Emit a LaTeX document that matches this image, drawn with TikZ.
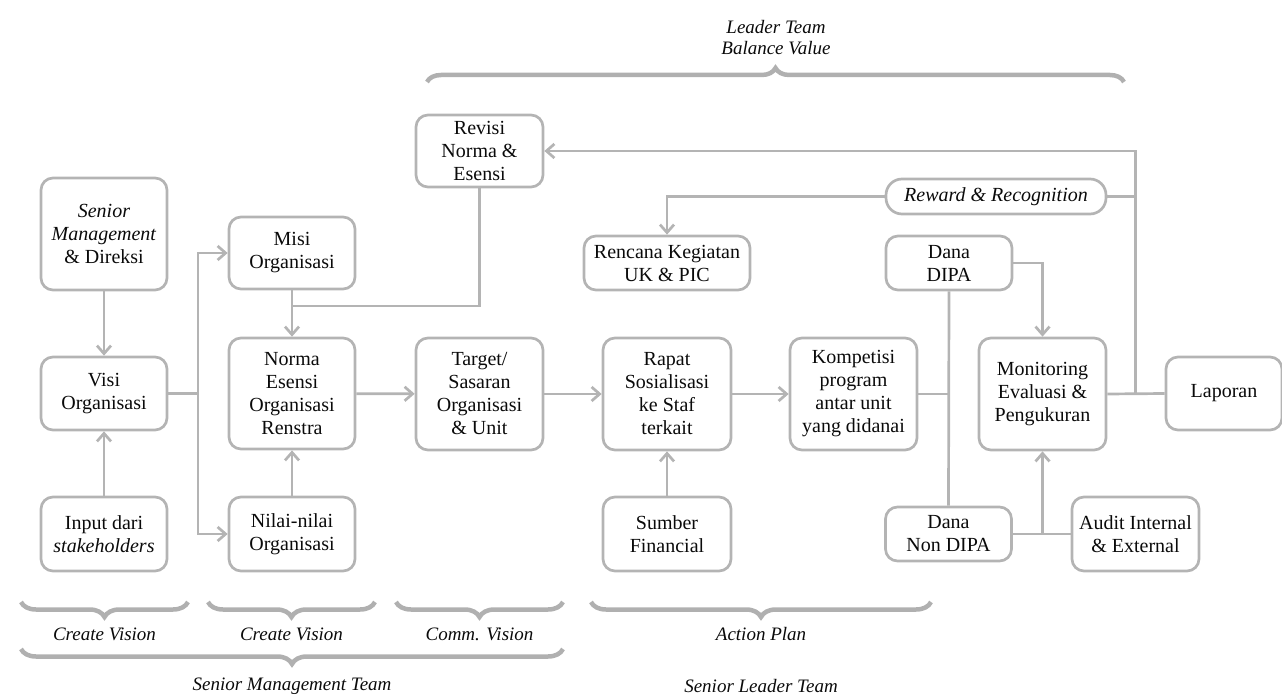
\documentclass[tikz,border=0pt]{standalone}
\usepackage{fontspec}
\setmainfont{Liberation Serif}
\usetikzlibrary{arrows.meta,decorations.pathreplacing,calc}
\definecolor{linegray}{RGB}{180,180,180}
\definecolor{bracegray}{RGB}{176,176,176}
\definecolor{txt}{RGB}{10,10,10}

\begin{document}
\begin{tikzpicture}[x=1pt,y=-1pt,
  box/.style={draw=linegray, line width=2.7pt, rounded corners=12pt, align=center,
    inner sep=0pt, text=txt, font=\fontsize{20}{23}\selectfont},
  conn/.style={draw=linegray, line width=2.7pt},
  arr/.style={conn, -{Straight Barb[length=8pt,width=14pt]}},
  brc/.style={draw=bracegray, line width=4.5pt, decorate},
  lbl/.style={text=txt, font=\fontsize{19}{21}\selectfont\itshape, align=center, inner sep=0pt}]

\useasboundingbox (0,0) rectangle (1282,695);

% ---------- boxes ----------
\node[box, minimum width=126pt, minimum height=112pt] (senior) at (104,234)
  {\textit{Senior}\\\textit{Management}\\\& Direksi};
\node[box, minimum width=126pt, minimum height=73pt] (visi) at (104,393.5)
  {Visi\\Organisasi};
\node[box, minimum width=126pt, minimum height=74pt] (input) at (104,534)
  {Input dari\\\textit{stakeholders}};

\node[box, minimum width=126pt, minimum height=72pt] (misi) at (292,253)
  {Misi\\Organisasi};
\node[box, minimum width=126pt, minimum height=111pt] (norma) at (292,393.5)
  {Norma\\Esensi\\Organisasi\\Renstra};
\node[box, minimum width=126pt, minimum height=74pt] (nilai) at (292,534)
  {Nilai-nilai\\Organisasi};

\node[box, minimum width=127pt, minimum height=72pt] (revisi) at (479.5,151)
  {Revisi\\Norma \&\\Esensi};
\node[box, minimum width=127pt, minimum height=112pt] (target) at (479.5,394)
  {Target/\\Sasaran\\Organisasi\\\& Unit};

\node[box, minimum width=166pt, minimum height=54pt] (rencana) at (667,263)
  {Rencana Kegiatan\\UK \& PIC};
\node[box, minimum width=128pt, minimum height=112pt] (rapat) at (667,394)
  {Rapat\\Sosialisasi\\ke Staf\\terkait};
\node[box, minimum width=128pt, minimum height=74pt] (sumber) at (667,534)
  {Sumber\\Financial};

\node[box, minimum width=127pt, minimum height=112pt] (kompetisi) at (853.5,394)
  {Kompetisi\\program\\antar unit\\yang didanai};

\node[box, rounded corners=16pt, minimum width=220pt, minimum height=35pt] (reward) at (996,196.5)
  {\textit{Reward \& Recognition}};
\node[box, minimum width=126pt, minimum height=54pt] (dipa) at (949,263)
  {Dana\\DIPA};
\node[box, minimum width=126pt, minimum height=54pt] (nondipa) at (948.5,534)
  {Dana\\Non DIPA};

\node[box, minimum width=127pt, minimum height=112pt] (monitoring) at (1042.5,394)
  {Monitoring\\Evaluasi \&\\Pengukuran};
\node[box, minimum width=127pt, minimum height=74pt] (audit) at (1135.5,534)
  {Audit Internal\\\& External};
\node[box, minimum width=116pt, minimum height=73pt] (laporan) at (1224,393.5)
  {Laporan};

% ---------- junctions ----------
\coordinate (jvisi) at (198,393.5);
\coordinate (jmisi) at (292,306);
\coordinate (jdana) at (dipa.south |- kompetisi.east);
\coordinate (jaudit) at (monitoring.south |- nondipa.east);
\coordinate (jlap) at (1135.5,394);

% ---------- connectors ----------
\draw[arr] (senior) -- (visi);
\draw[arr] (input) -- (visi);
\draw[conn] (visi.east) -- (jvisi);
\draw[arr] (jvisi) |- (misi.west);
\draw[arr] (jvisi) |- (nilai.west);
\draw[arr] (misi) -- (norma);
\draw[arr] (nilai) -- (norma);
\draw[conn] (revisi.south) |- (jmisi);
\draw[arr] (norma) -- (target);
\draw[arr] (target) -- (rapat);
\draw[arr] (rapat) -- (kompetisi);
\draw[arr] (sumber) -- (rapat);
\draw[conn] (kompetisi.east) -- (jdana);
\draw[conn] (dipa.south) -- (nondipa.north);
\draw[arr] (dipa.east) -| (monitoring.north);
\draw[conn] (nondipa.east) -- (audit.west);
\draw[arr] (jaudit) -- (monitoring.south);
\draw[conn] (monitoring.east) -- (laporan.west);
\draw[arr] (jlap) |- (revisi.east);
\draw[conn] (reward.east) -- (reward.east -| jlap);
\draw[arr] (reward.west) -| (rencana.north);

% ---------- braces and phase labels ----------
\draw[brc, decoration={brace, amplitude=14pt}] (427,82) -- (1124,82);
\node[lbl] at (776,38) {Leader Team\\Balance Value};

\draw[brc, decoration={brace, mirror, amplitude=15pt}] (21,602) -- (188,602);
\draw[brc, decoration={brace, mirror, amplitude=15pt}] (208,602) -- (375,602);
\draw[brc, decoration={brace, mirror, amplitude=15pt}] (396,602) -- (563,602);
\draw[brc, decoration={brace, mirror, amplitude=15pt}] (591,602) -- (931,602);
\node[lbl] at (104.5,634) {Create Vision};
\node[lbl] at (291.5,634) {Create Vision};
\node[lbl] at (479.5,634) {Comm. Vision};
\node[lbl] at (761,634) {Action Plan};

\draw[brc, decoration={brace, mirror, amplitude=15pt}] (21,649) -- (563,649);
\node[lbl] at (292,686) {Senior Management Team};
\node[lbl] at (761,686) {Senior Leader Team};
\end{tikzpicture}
\end{document}
